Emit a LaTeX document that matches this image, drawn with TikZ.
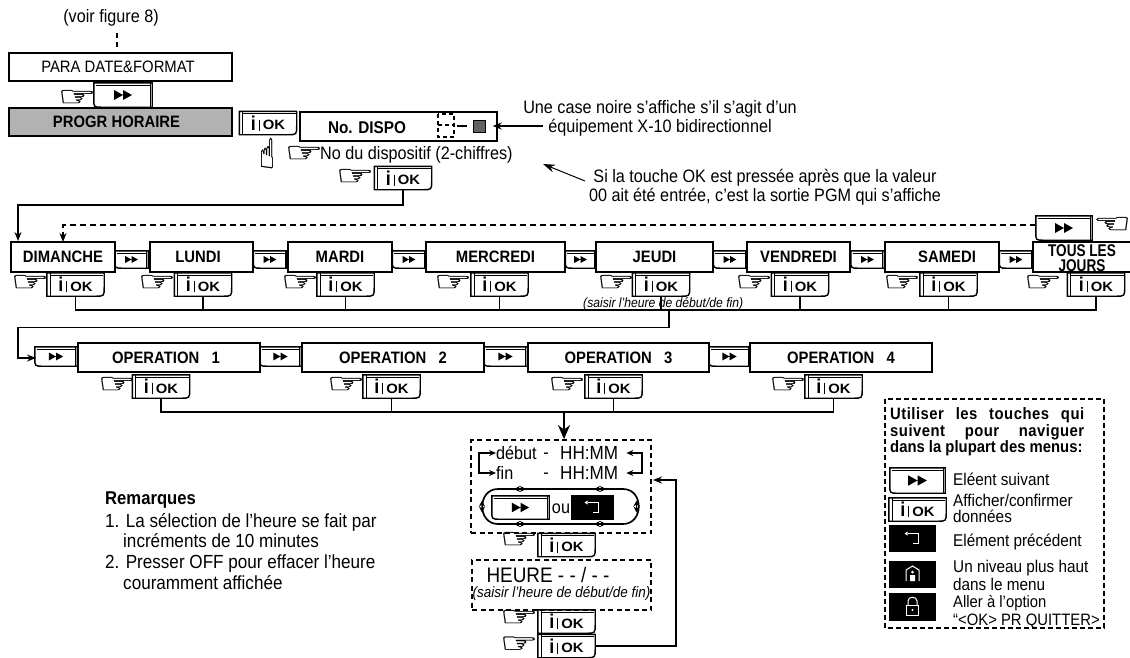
\documentclass[tikz,border=0pt]{standalone}
\usepackage{fontspec}
\setmainfont[FakeStretch=0.9]{Liberation Sans}
\newfontfamily\handfont[FakeStretch=1.55,FakeBold=0.5]{DejaVu Sans}
\newfontfamily\uphandfont[FakeStretch=0.6,FakeBold=0.5]{DejaVu Sans}
\usepackage{amsmath}
\usetikzlibrary{arrows.meta}

\tikzset{
  menubox/.style={draw, line width=1.6pt, inner sep=0pt, font=\bfseries\fontsize{16.5}{18}\selectfont},
  txt/.style={inner sep=0pt, font=\fontsize{18}{19}\selectfont},
  legtxt/.style={inner sep=0pt, anchor=west, align=left, font=\fontsize{17}{18}\selectfont},
  small/.style={inner sep=0pt, font=\itshape\fontsize{13.5}{14}\selectfont},
  hand/.style={inner sep=0pt, font=\handfont\fontsize{28}{28}\selectfont},
  dashbox/.style={line width=1.8pt, dash pattern=on 5pt off 3.5pt},
  keyface/.style={line width=1.4pt},
  link/.style={line width=1.7pt},
  tick/.style={line width=1pt, {Stealth[length=6pt,width=6pt]}-{Stealth[length=6pt,width=6pt]}},
  blackkey/.style={fill=black, inner sep=0pt}
}

% Key with double arrow, rounded at lower left
\newcommand{\nextkey}[5]{
  \node[inner sep=0pt, minimum width=#4 pt, minimum height=#5 pt] (#1) at (#2,#3) {};
  \draw[keyface] (#1.north west) -- (#1.north east) -- (#1.south east) -- ([xshift=8pt]#1.south west)
    .. controls (#1.south west) .. ([yshift=8pt]#1.south west) -- cycle;
  \draw[thin] ([shift={(2pt,-2pt)}]#1.north west) -- ([shift={(-2pt,-2pt)}]#1.north east);
  \draw[thin] ([xshift=-2pt]#1.north east) -- ([xshift=-2pt]#1.south east);
  \fill[shift={(#2,#3)}, scale=#5/24] (-9,-5) -- (0,0) -- (-9,5) -- cycle (0,-5) -- (9,0) -- (0,5) -- cycle;
}

% Key with i and OK, rounded at lower right
\newcommand{\okkey}[3]{
  \node[inner sep=0pt, minimum width=57pt, minimum height=23pt] (#1) at (#2,#3)
    {\raisebox{-0.5pt}{\fontsize{20}{20}\selectfont\bfseries i}\hspace{3pt}\rule[-1pt]{0.6pt}{11pt}\hspace{3.5pt}{\fontsize{13.5}{14}\selectfont\bfseries\addfontfeature{FakeStretch=1.1}OK}};
  \draw[keyface] (#1.north west) -- (#1.north east) -- ([yshift=9pt]#1.south east)
    .. controls (#1.south east) .. ([xshift=-9pt]#1.south east) -- (#1.south west) -- cycle;
  \draw[thin] ([xshift=3pt]#1.north west) -- ([xshift=3pt]#1.south west);
  \draw[thin] ([shift={(3pt,-2pt)}]#1.north west) -- ([shift={(-1pt,-2pt)}]#1.north east);
}

% Black key with return sign
\newcommand{\backkey}[5]{
  \node[blackkey, minimum width=#4 pt, minimum height=#5 pt] (#1) at (#2,#3) {};
  \draw[white, line width=1pt, shift={(#2,#3)}] (-5,-5) -- (6,-5) -- (6,5) -- (0,5);
  \fill[white, shift={(#2,#3)}] (-5,-7) -- (-8,-5) -- (-5,-3) -- cycle;
}

\begin{document}
\begin{tikzpicture}[x=1pt, y=-1pt, >={Stealth[length=9pt,width=7pt]}]
  \useasboundingbox (0,0) rectangle (1130,657);

  % Top of the chart
  \node[txt] (voir) at (111,18) {(voir figure 8)};
  \draw[dashbox] (117,33) -- (117,50);
  \node[menubox, font=\fontsize{16.5}{18}\selectfont, minimum width=223pt, minimum height=28pt] (para) at (120.5,67) {PARA DATE\&FORMAT\hspace*{5pt}};
  \nextkey{nextpara}{123}{95}{58}{24}
  \node[hand] (handpara) at (77,98) {☞};
  \node[menubox, fill=black!30, minimum width=223pt, minimum height=28pt] (progr) at (120.5,122) {PROGR HORAIRE\hspace*{8pt}};
  \okkey{okprogr}{268}{123}
  \node[inner sep=0pt, font=\uphandfont\fontsize{42}{42}\selectfont] (handup) at (267,153) {☝};

  % Device number
  \node[menubox, minimum width=197pt, minimum height=29pt] (dispo) at (398.5,126.5) {};
  \node[inner sep=0pt, font=\bfseries\fontsize{17}{18}\selectfont] (dispotxt) at (367,128) {No. DISPO};
  \draw[dashbox, line width=1.5pt, dash pattern=on 4pt off 3pt] (438,114) rectangle (454,137);
  \draw[dashbox, line width=1.5pt, dash pattern=on 4pt off 3pt] (438,125) -- (454,125);
  \draw[link] (457,126) -- (467,126);
  \node[draw, fill=black!62, inner sep=0pt, minimum size=12pt] (casenoire) at (479.5,126) {};
  \coordinate (casefrom) at (543,126);
  \draw[->, link] (casefrom) -- ([xshift=7pt]casenoire.east);
  \node[txt, align=center] (casetxt) at (660,118) {Une case noire s’affiche s’il s’agit d’un\\équipement X-10 bidirectionnel};
  \node[hand] (handno) at (304,154) {☞};
  \node[txt, anchor=west] (notxt) at (320,155) {No du dispositif (2-chiffres)};
  \node[hand] (handdispo) at (355,177) {☞};
  \okkey{okdispo}{403}{178}
  \coordinate (pgmto) at (543,164);
  \coordinate (pgmfrom) at (585,181);
  \draw[->, line width=1pt, >={Stealth[length=12pt,width=8pt]}] (pgmfrom) -- (pgmto);
  \node[txt, align=center] (pgmtxt) at (765,187.5) {Si la touche OK est pressée après que la valeur\\00 ait été entrée, c’est la sortie PGM qui s’affiche};

  % Days
  \node[menubox, line width=2.2pt, minimum width=104pt, minimum height=30pt] (dim) at (63,257) {DIMANCHE};
  \node[menubox, minimum width=103pt, minimum height=30pt] (lun) at (201.5,257) {LUNDI\hspace*{7pt}};
  \node[menubox, minimum width=104pt, minimum height=30pt] (mar) at (340,257) {MARDI};
  \node[menubox, minimum width=139pt, minimum height=30pt] (mer) at (495.5,257) {MERCREDI};
  \node[menubox, minimum width=117pt, minimum height=30pt] (jeu) at (654.5,257) {JEUDI};
  \node[menubox, minimum width=103pt, minimum height=30pt] (ven) at (798.5,257) {VENDREDI};
  \node[menubox, minimum width=114pt, minimum height=30pt] (sam) at (942,257) {\hspace*{10pt}SAMEDI};
  \draw[line width=1.6pt] (1130,242) -- (1033,242) -- (1033,272) -- (1130,272);
  \node[inner sep=0pt, align=center, font=\bfseries\fontsize{17}{15}\selectfont\addfontfeature{FakeStretch=0.8}] (tous) at (1082,258) {TOUS LES\\JOURS};

  \nextkey{nextdim}{131.5}{259.5}{33}{17}
  \nextkey{nextlun}{270}{259.5}{33}{17}
  \nextkey{nextmar}{409}{259.5}{33}{17}
  \nextkey{nextmer}{580.5}{259.5}{30}{17}
  \nextkey{nextjeu}{730}{259.5}{33}{17}
  \nextkey{nextven}{867.5}{259.5}{33}{17}
  \nextkey{nextsam}{1016}{259.5}{33}{17}

  \okkey{okdim}{75.5}{284.5}
  \okkey{oklun}{203}{284.5}
  \okkey{okmar}{345.5}{284.5}
  \okkey{okmer}{499.5}{284.5}
  \okkey{okjeu}{661}{284.5}
  \okkey{okven}{800}{284.5}
  \okkey{oksam}{948.5}{284.5}
  \okkey{oktous}{1096}{284.5}

  \node[hand] (handdim) at (30,283) {☞};
  \node[hand] (handlun) at (157,283) {☞};
  \node[hand] (handmar) at (300,283) {☞};
  \node[hand] (handmer) at (453,283) {☞};
  \node[hand] (handjeu) at (616,283) {☞};
  \node[hand] (handven) at (754,283) {☞};
  \node[hand] (handsam) at (902,283) {☞};
  \node[hand] (handtous) at (1043,283) {☞};

  % Return from the last day
  \nextkey{nexttous}{1064}{228}{56}{24}
  \node[hand] (handback) at (1112,225) {☜};
  \coordinate (dimback) at (63,242);
  \coordinate (backfrom) at (1036,225);
  \draw[->, link, dash pattern=on 6pt off 4pt] (backfrom) -| (dimback);

  % Link down to the days
  \coordinate (dimin) at (18,241);
  \draw[->, link] (okdispo.south) -- ++(0,15) -| (dimin);

  % Link down to the operations
  \coordinate (daybus) at (669,310);
  \draw[link] (okdim.south) -- ++(0,13.5) -| (oktous.south);
  \draw[link] (oklun.south) |- (daybus);
  \draw[link] (okmar.south) |- (daybus);
  \draw[link] (okmer.south) |- (daybus);
  \draw[link] (okjeu.south) |- (daybus);
  \draw[link] (okven.south) |- (daybus);
  \draw[link] (oksam.south) |- (daybus);
  \node[small, anchor=west] (saisirday) at (583,304) {(saisir l’heure de début/de fin)};

  % Operations
  \node[menubox, minimum width=182pt, minimum height=29pt] (op1) at (169,357.5) {OPERATION\ \ \ 1\hspace*{6pt}};
  \node[menubox, minimum width=182pt, minimum height=29pt] (op2) at (393,357.5) {OPERATION\ \ \ 2};
  \node[menubox, minimum width=181pt, minimum height=29pt] (op3) at (618.5,357.5) {OPERATION\ \ \ 3};
  \node[menubox, minimum width=182pt, minimum height=29pt] (op4) at (841,357.5) {OPERATION\ \ \ 4};

  \nextkey{nextop0}{56}{356.5}{42}{19}
  \nextkey{nextop1}{280.5}{356.5}{41}{19}
  \nextkey{nextop2}{505.5}{356.5}{43}{19}
  \nextkey{nextop3}{729.5}{356.5}{41}{19}

  \okkey{okop1}{161}{386.5}
  \okkey{okop2}{391.5}{386.5}
  \okkey{okop3}{613.5}{386.5}
  \okkey{okop4}{833.5}{386.5}

  \node[hand] (handop1) at (117,385) {☞};
  \node[hand] (handop2) at (346,385) {☞};
  \node[hand] (handop3) at (567,385) {☞};
  \node[hand] (handop4) at (788,385) {☞};

  \coordinate (opin) at (36,358);
  \draw[->, link] (daybus) -- ++(0,17.5) -| (18,358) -- (opin);

  \coordinate (opbus) at (564,412);
  \draw[link] (okop1.south) -- ++(0,14) -| (okop4.south);
  \draw[link] (okop2.south) |- (opbus);
  \draw[link] (okop3.south) |- (opbus);

  % Time entry
  \node[dashbox, draw, inner sep=0pt, minimum width=180pt, minimum height=93pt] (timebox) at (561,486.5) {};
  \draw[->, line width=2.4pt, >={Stealth[length=14pt,width=12pt]}] (opbus) -- (timebox.north -| opbus);
  \node[txt, anchor=west] (debut) at (496,453) {début};
  \node[txt] (debutdash) at (546,456) {-};
  \node[txt, anchor=west, font=\fontsize{19}{20}\selectfont] (debuthh) at (560,453) {HH:MM};
  \node[txt, anchor=west] (fin) at (496,473) {fin};
  \node[txt] (findash) at (546,476) {-};
  \node[txt, anchor=west, font=\fontsize{19}{20}\selectfont] (finhh) at (560,473) {HH:MM};
  \draw[<->, link, >={Stealth[length=7pt,width=6pt]}] (debut.west) -- ++(-17,0) |- (fin.west);
  \draw[<->, link, >={Stealth[length=7pt,width=6pt]}] ([xshift=8pt]debuthh.east) -- ++(16,0) |- ([xshift=8pt]finhh.east);

  \draw[link] (498,489) -- (623,489) .. controls (644,489) and (644,524) .. (623,524) -- (498,524) .. controls (477,524) and (477,489) .. (498,489);
  \draw[tick] (514,489) -- (526,489);
  \draw[tick] (594,489) -- (606,489);
  \draw[tick] (514,524) -- (526,524);
  \draw[tick] (594,524) -- (606,524);
  \draw[tick] (482,500.5) -- (482,512.5);
  \draw[tick] (636.5,500.5) -- (636.5,512.5);
  \nextkey{nexttime}{520.5}{507.5}{57}{23}
  \node[txt] (ou) at (561,509) {ou};
  \backkey{backtime}{592.5}{507.5}{43}{25}
  \node[hand] (handtime) at (519,540) {☞};
  \okkey{oktime}{566.5}{545}

  \node[dashbox, draw, inner sep=0pt, minimum width=179pt, minimum height=50pt] (heurebox) at (561.5,585) {};
  \node[inner sep=0pt, font=\fontsize{21}{22}\selectfont] (heure) at (548,575) {HEURE - - / - -};
  \node[small, font=\itshape\fontsize{15}{15}\selectfont] (saisir) at (561.5,594) {(saisir l’heure de début/de fin)};
  \node[hand] (handh1) at (519,618) {☞};
  \okkey{okh1}{566.5}{621.5}
  \node[hand] (handh2) at (519,644.5) {☞};
  \okkey{okh2}{566.5}{646}
  \coordinate (timeback) at (653,480);
  \draw[->, link] (okh2.east) -- (676,646) |- (timeback);

  % Remarks
  \node[txt, anchor=west, font=\bfseries\fontsize{18.5}{20}\selectfont] (rem) at (105,500) {Remarques};
  \node[txt, anchor=north west, align=left, font=\fontsize{19}{20.7}\selectfont] (remlist) at (105,513) {1. La sélection de l’heure se fait par\\\hspace*{18pt}incréments de 10 minutes\\2. Presser OFF pour effacer l’heure\\\hspace*{18pt}couramment affichée};

  % Legend
  \draw[dashbox, line width=1.3pt, dash pattern=on 5pt off 3pt] (885,399) rectangle (1104,628);
  \node[inner sep=0pt, anchor=west, font=\bfseries\fontsize{16.5}{18}\selectfont\addfontfeature{LetterSpace=3}] (head1) at (890,415) {\makebox[194pt][s]{Utiliser les touches qui}};
  \node[inner sep=0pt, anchor=west, font=\bfseries\fontsize{16.5}{18}\selectfont\addfontfeature{LetterSpace=3}] (head2) at (890,432) {\makebox[194pt][s]{suivent pour naviguer}};
  \node[inner sep=0pt, anchor=west, font=\bfseries\fontsize{16.5}{18}\selectfont] (head3) at (890,448) {dans la plupart des menus:};
  \nextkey{keynext}{917.5}{480.5}{55}{25}
  \okkey{keyok}{917.5}{509.5}
  \backkey{keyback}{912.5}{538.5}{47}{27}
  \node[blackkey, minimum width=47pt, minimum height=27pt] (keyhome) at (912.5,574.5) {};
  \draw[white, line width=1pt] (906,581) -- (906,570) -- (912.5,566) -- (919,570) -- (919,581);
  \fill[white] (912.5,572) circle (1.5pt) (910,575) rectangle (915,581);
  \node[blackkey, minimum width=47pt, minimum height=28pt] (keylock) at (912.5,607) {};
  \draw[white, line width=1pt] (908,605) -- (908,601) .. controls (908,596) and (917,596) .. (917,601) -- (917,605);
  \draw[white, line width=1pt] (906.5,605) rectangle (918.5,615);
  \fill[white] (912.5,610) circle (1.2pt);
  \node[legtxt] (lnext) at (953,479) {Eléent suivant};
  \node[legtxt, font=\fontsize{17}{15.5}\selectfont] (lok) at (953,508.5) {Afficher/confirmer\\données};
  \node[legtxt] (lback) at (953,542) {Elément précédent};
  \node[legtxt] (lhome) at (953,575) {Un niveau plus haut\\dans le menu};
  \node[legtxt, font=\fontsize{16.5}{18}\selectfont] (llock) at (953,612) {Aller à l’option\\“<OK> PR QUITTER>};
\end{tikzpicture}
\end{document}
